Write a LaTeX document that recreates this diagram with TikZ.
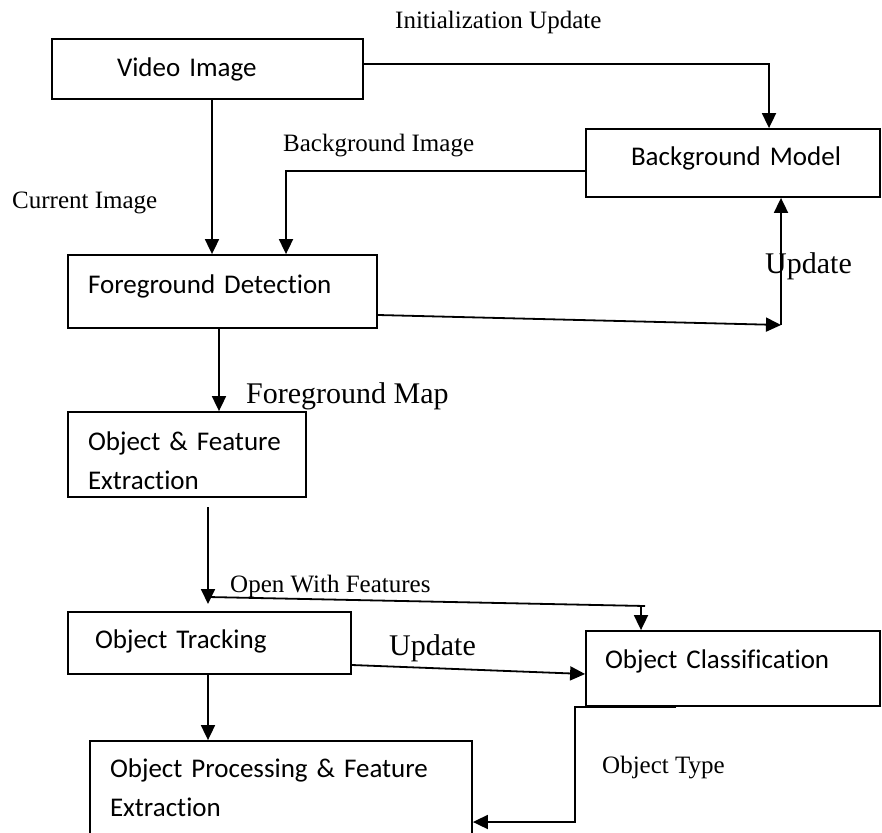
\documentclass[tikz,border=0pt]{standalone}
\usepackage{fontspec}
\setmainfont{Liberation Serif}
\newfontfamily\boxfont{Carlito}[Ligatures=NoCommon]
\usetikzlibrary{arrows.meta}

\begin{document}
\begin{tikzpicture}[x=1pt, y=-1pt,
  box/.style={draw, line width=1.8pt, inner sep=0pt,
    font=\boxfont\fontsize{27}{38.5}\selectfont, align=left, text height=20pt},
  lbl/.style={inner sep=0pt, anchor=base west, font=\fontsize{25}{30}\selectfont},
  biglbl/.style={lbl, font=\fontsize{30}{36}\selectfont},
  link/.style={line width=1.8pt},
  arr/.style={link, -{Triangle[length=15pt,width=14pt]}}]

\clip (0,0) rectangle (882,832);
\fill[white] (0,0) rectangle (882,832);

% processing blocks
\node[box, minimum width=311pt, minimum height=60pt, text width=181pt, text depth=4.6pt]
  (vid) at (207.5,69) {Video Image};
\node[box, minimum width=294pt, minimum height=68pt, text width=280pt, align=center, text depth=14.6pt]
  (bgm) at (733,163) {\hspace*{6pt}Background Model};
\node[box, minimum width=309pt, minimum height=73pt, text width=269pt, text depth=15.6pt]
  (fgd) at (222.5,291.5) {Foreground Detection};
\node[box, minimum width=238pt, minimum height=85pt, text width=198pt, text depth=27.6pt]
  (ofe) at (187,454.5) {Object \& Feature\\Extraction};
\node[box, minimum width=283pt, minimum height=62pt, text width=229pt, text depth=8.6pt]
  (otr) at (209.5,643) {Object Tracking};
\node[box, minimum width=294pt, minimum height=75pt, text width=256pt, text depth=19.6pt]
  (ocl) at (733,668.5) {Object Classification};
\node[box, minimum width=382pt, minimum height=99pt, text width=342pt, text depth=45.6pt]
  (opf) at (281,790.5) {Object Processing \& Feature\\Extraction};

% connectors
\draw[arr] ([yshift=5pt]vid.east) -| ([xshift=36pt]bgm.north);
\draw[arr] (vid.south -| 212,0) -- (fgd.north -| 212,0);
\draw[arr] (bgm.west |- 0,171) -| (fgd.north -| 286,0);
\coordinate (upturn) at (781,325);
\draw[arr] (fgd.east |- 0,315) -- (upturn);
\draw[arr] (upturn) -- (bgm.south -| upturn);
\draw[arr] (fgd.south -| 219,0) -- (ofe.north -| 219,0);
\coordinate (ofeout) at (208,507);
\coordinate (otrin) at (208,604);
\draw[arr] (ofeout) -- (otrin);
\coordinate (fwleft) at (208,597);
\coordinate (fwright) at (645,606);
\coordinate (fwdrop) at (641,606);
\draw[link] (fwleft) -- (fwright);
\draw[arr] (fwdrop) -- (ocl.north -| fwdrop);
\draw[arr] (otr.east |- 0,665) -- (ocl.west |- 0,674);
\draw[arr] (otr.south -| 208,0) -- (opf.north -| 208,0);
\draw[arr] (ocl.south -| 676,0) -- (ocl.south -| 575,0) |- (opf.east |- 0,822);

% connector labels
\node[lbl] (initlbl) at (395,28.5) {Initialization Update};
\node[lbl] (bglbl) at (283,151.5) {Background Image};
\node[lbl] (curlbl) at (12,208.5) {Current Image};
\node[biglbl] (uplbla) at (765,273) {Update};
\node[biglbl] (fgmap) at (246,403) {Foreground Map};
\node[lbl] (openlbl) at (230,592) {Open With Features};
\node[biglbl] (uplblb) at (389,655) {Update};
\node[lbl] (typelbl) at (602,773) {Object Type};
\end{tikzpicture}
\end{document}
